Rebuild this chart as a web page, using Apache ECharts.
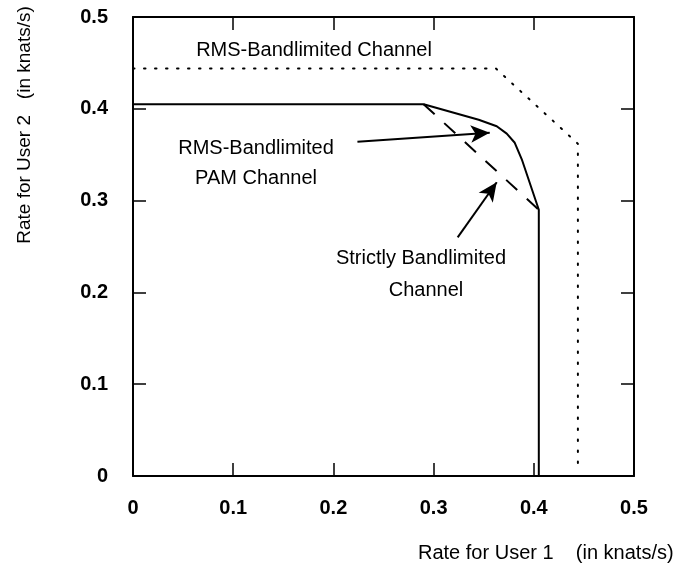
<!DOCTYPE html>
<html>
<head>
<meta charset="utf-8">
<script src="https://cdn.jsdelivr.net/npm/echarts@6/dist/echarts.min.js"></script>
<style>
  html, body { margin: 0; padding: 0; background: #fff; }
  #main { width: 679px; height: 568px; }
</style>
</head>
<body>
<div id="main"></div>
<script>
  // axis ticks
  var xTicks = [0, 0.1, 0.2, 0.3, 0.4, 0.5];
  var yTicks = [0, 0.1, 0.2, 0.3, 0.4, 0.5];

  // RMS-Bandlimited Channel (dotted)
  var rmsChannel = [[0, 0.444], [0.362, 0.444], [0.444, 0.362], [0.444, 0.01]];
  // RMS-Bandlimited PAM Channel (solid)
  var pamChannel = [[0, 0.405], [0.290, 0.405], [0.345, 0.388], [0.363, 0.381], [0.373, 0.373],
                    [0.381, 0.363], [0.388, 0.345], [0.405, 0.290], [0.405, 0]];
  // Strictly Bandlimited Channel (dashed)
  var strictChannel = [[0.290, 0.405], [0.405, 0.290]];

  // annotation arrows: [from, tip] in data units
  var arrows = [
    [[0.224, 0.364], [0.356, 0.374]],
    [[0.324, 0.260], [0.363, 0.320]]
  ];

  var font = 'Liberation Sans, Arial, Helvetica, sans-serif';
  var black = '#000';

  var myChart = echarts.init(document.getElementById('main'), null, { renderer: 'canvas' });

  function axisBase(pos, showLabel, ticks) {
    return {
      type: 'value',
      position: pos,
      min: ticks[0],
      max: ticks[ticks.length - 1],
      interval: 0.1,
      splitLine: { show: false },
      axisLine: { show: true, onZero: false, lineStyle: { color: black, width: 2 } },
      axisTick: { show: true, inside: true, length: 13, lineStyle: { color: black, width: 1.5 } },
      axisLabel: {
        show: showLabel,
        color: black,
        fontSize: 20,
        fontWeight: 'bold',
        fontFamily: font,
        margin: pos === 'bottom' ? 22 : 25
      }
    };
  }

  var option = {
    backgroundColor: '#fff',
    animation: false,
    grid: { left: 133, right: 45, top: 17, bottom: 92 },
    xAxis: [axisBase('bottom', true, xTicks), axisBase('top', false, xTicks)],
    yAxis: [axisBase('left', true, yTicks), axisBase('right', false, yTicks)],
    series: [
      {
        name: 'RMS-Bandlimited Channel',
        type: 'line',
        data: rmsChannel,
        symbol: 'none',
        lineStyle: { color: black, width: 2, type: [1.5, 9.5], cap: 'round' }
      },
      {
        name: 'RMS-Bandlimited PAM Channel',
        type: 'line',
        data: pamChannel,
        symbol: 'none',
        lineStyle: { color: black, width: 2 }
      },
      {
        name: 'Strictly Bandlimited Channel',
        type: 'line',
        data: strictChannel,
        symbol: 'none',
        lineStyle: { color: black, width: 2, type: [15, 13] }
      },
      {
        name: 'arrows',
        type: 'line',
        data: [],
        markLine: {
          silent: true,
          symbol: ['none', 'arrow'],
          symbolSize: [13, 19],
          label: { show: false },
          lineStyle: { color: black, width: 2, type: 'solid' },
          itemStyle: { color: black },
          emphasis: { disabled: true },
          data: arrows.map(function (a) {
            return [{ coord: a[0] }, { coord: a[1] }];
          })
        }
      }
    ],
    graphic: [
      { type: 'text', x: 314, y: 50, style: { text: 'RMS-Bandlimited Channel', fill: black, font: '20px ' + font, align: 'center', verticalAlign: 'middle' } },
      { type: 'text', x: 256, y: 148, style: { text: 'RMS-Bandlimited', fill: black, font: '20px ' + font, align: 'center', verticalAlign: 'middle' } },
      { type: 'text', x: 256, y: 178, style: { text: 'PAM Channel', fill: black, font: '20px ' + font, align: 'center', verticalAlign: 'middle' } },
      { type: 'text', x: 421, y: 258, style: { text: 'Strictly Bandlimited', fill: black, font: '20px ' + font, align: 'center', verticalAlign: 'middle' } },
      { type: 'text', x: 426, y: 290, style: { text: 'Channel', fill: black, font: '20px ' + font, align: 'center', verticalAlign: 'middle' } },
      { type: 'text', x: 418, y: 553, style: { text: 'Rate for User 1    (in knats/s)', fill: black, font: '20px ' + font, align: 'left', verticalAlign: 'middle' } },
      { type: 'text', x: 25, y: 125, rotation: Math.PI / 2, style: { text: 'Rate for User 2   (in knats/s)', fill: black, font: '19px ' + font, align: 'center', verticalAlign: 'middle' } }
    ]
  };

  myChart.setOption(option);
</script>
</body>
</html>
